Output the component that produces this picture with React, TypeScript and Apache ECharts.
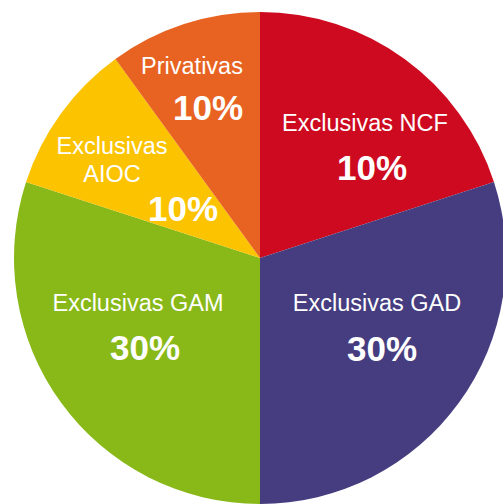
import React, { useEffect, useRef } from "react";
import * as echarts from "echarts";

const categories = ["Exclusivas NCF", "Exclusivas GAD", "Exclusivas GAM", "Exclusivas\nAIOC", "Privativas"];
const sliceValues = [20, 30, 30, 10, 10];
const percentLabels = ["10%", "30%", "30%", "10%", "10%"];
const colors = ["#CD0A20", "#453D7F", "#89B919", "#FBC300", "#E86322"];

// label positions (styling, not data)
const namePos = [[365, 123], [377, 303], [138, 303], [112, 160], [192, 66]];
const pctPos = [[372, 167], [382, 348], [145, 347], [183, 208], [208, 107]];

const FONT = "'Liberation Sans', Arial, Helvetica, sans-serif";

export default function App() {
  const ref = useRef<HTMLDivElement>(null);
  useEffect(() => {
    if (!ref.current) return;
    const chart = echarts.init(ref.current, undefined, { renderer: "svg" });
    const data = categories.map((c, i) => ({
      name: c,
      value: sliceValues[i],
      itemStyle: { color: colors[i] },
    }));
    chart.setOption({
      animation: false,
      backgroundColor: "#ffffff",
      series: [
        {
          type: "pie",
          center: [260, 258],
          radius: 246,
          startAngle: 90,
          clockwise: true,
          silent: true,
          data,
          label: {
            show: true,
            position: "inside",
            formatter: (p: any) => p.name,
            color: "#ffffff",
            fontFamily: FONT,
            fontSize: 23.5,
            lineHeight: 28,
            align: "center",
          },
          labelLine: { show: false },
          labelLayout: (p: any) => ({
            x: namePos[p.dataIndex][0],
            y: namePos[p.dataIndex][1],
            align: "center",
            verticalAlign: "middle",
          }),
        },
        {
          type: "pie",
          center: [260, 258],
          radius: 246,
          startAngle: 90,
          clockwise: true,
          silent: true,
          data: data.map((d) => ({ ...d, itemStyle: { color: "rgba(0,0,0,0)" } })),
          label: {
            show: true,
            position: "inside",
            formatter: (p: any) => percentLabels[p.dataIndex],
            color: "#ffffff",
            fontFamily: FONT,
            fontSize: 35,
            fontWeight: "bold",
          },
          labelLine: { show: false },
          labelLayout: (p: any) => ({
            x: pctPos[p.dataIndex][0],
            y: pctPos[p.dataIndex][1],
            align: "center",
            verticalAlign: "middle",
          }),
        },
      ],
    });
    return () => chart.dispose();
  }, []);
  return (
    <div
      ref={ref}
      style={{ position: "fixed", left: 0, top: 0, width: 503, height: 504 }}
    />
  );
}
